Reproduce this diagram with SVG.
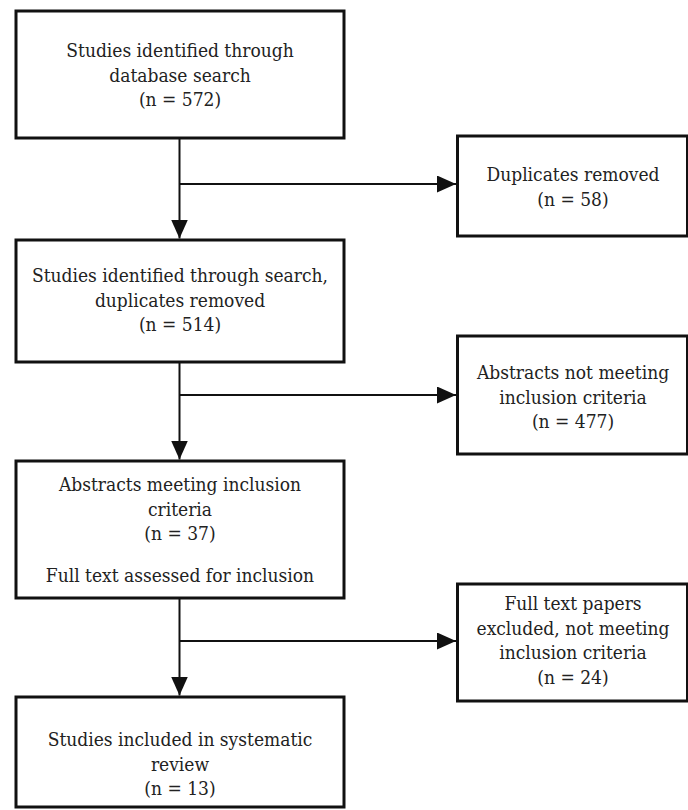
<svg xmlns="http://www.w3.org/2000/svg" width="688" height="810" viewBox="0 0 688 810">
<style>
.box{fill:#fff;stroke:#111;stroke-width:3}
.c{fill:none;stroke:#111;stroke-width:2}
.t{font-family:"DejaVu Serif Condensed","DejaVu Serif",serif;font-stretch:condensed;font-size:19px;fill:#222;text-anchor:middle}
</style>
<defs>
<marker id="ah" viewBox="0 0 19 17" refX="19" refY="8.5" markerWidth="19" markerHeight="17" markerUnits="userSpaceOnUse" orient="auto">
<path d="M0,0 L19,8.5 L0,17 z" fill="#111"/>
</marker>
</defs>
<rect width="688" height="810" fill="#fff"/>
<g id="connectors">
<line class="c" x1="179.5" y1="139" x2="179.5" y2="238.5" marker-end="url(#ah)"/>
<line class="c" x1="179.5" y1="184" x2="456" y2="184" marker-end="url(#ah)"/>
<line class="c" x1="179.5" y1="363" x2="179.5" y2="459.5" marker-end="url(#ah)"/>
<line class="c" x1="179.5" y1="395" x2="456" y2="395" marker-end="url(#ah)"/>
<line class="c" x1="179.5" y1="599" x2="179.5" y2="695.5" marker-end="url(#ah)"/>
<line class="c" x1="179.5" y1="641" x2="456" y2="641" marker-end="url(#ah)"/>
</g>
<g id="n1">
<rect class="box" x="16" y="11" width="328" height="127"/>
<text class="t" x="180" y="57">Studies identified through</text>
<text class="t" x="180" y="81.5">database search</text>
<text class="t" x="180" y="106">(n = 572)</text>
</g>
<g id="n2">
<rect class="box" x="457.5" y="136" width="230" height="100"/>
<text class="t" x="573" y="181">Duplicates removed</text>
<text class="t" x="573" y="205.5">(n = 58)</text>
</g>
<g id="n3">
<rect class="box" x="16" y="240" width="328" height="122"/>
<text class="t" x="180" y="282">Studies identified through search,</text>
<text class="t" x="180" y="306.5">duplicates removed</text>
<text class="t" x="180" y="331">(n = 514)</text>
</g>
<g id="n4">
<rect class="box" x="457.5" y="336" width="230" height="118"/>
<text class="t" x="573" y="379">Abstracts not meeting</text>
<text class="t" x="573" y="403.5">inclusion criteria</text>
<text class="t" x="573" y="428">(n = 477)</text>
</g>
<g id="n5">
<rect class="box" x="16" y="461" width="328" height="137"/>
<text class="t" x="180" y="491">Abstracts meeting inclusion</text>
<text class="t" x="180" y="515.5">criteria</text>
<text class="t" x="180" y="540">(n = 37)</text>
<text class="t" x="180" y="582">Full text assessed for inclusion</text>
</g>
<g id="n6">
<rect class="box" x="457.5" y="584" width="230" height="117"/>
<text class="t" x="573" y="610">Full text papers</text>
<text class="t" x="573" y="634.5">excluded, not meeting</text>
<text class="t" x="573" y="659">inclusion criteria</text>
<text class="t" x="573" y="683.5">(n = 24)</text>
</g>
<g id="n7">
<rect class="box" x="16" y="697" width="328" height="110"/>
<text class="t" x="180" y="746">Studies included in systematic</text>
<text class="t" x="180" y="770.5">review</text>
<text class="t" x="180" y="795">(n = 13)</text>
</g>
</svg>
